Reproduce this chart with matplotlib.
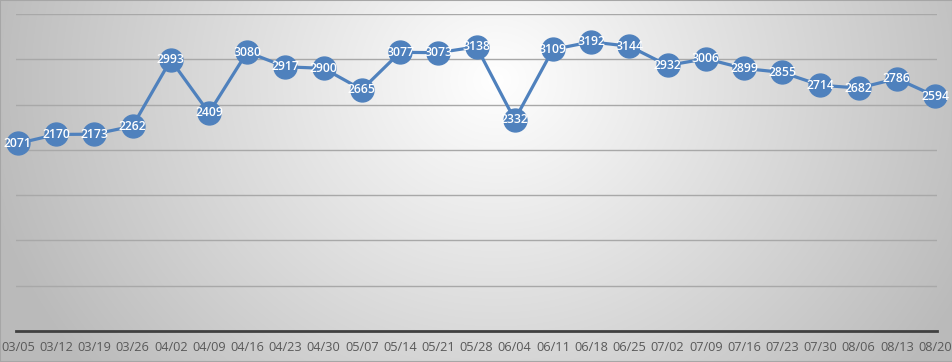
import numpy as np
import matplotlib
matplotlib.use("Agg")
import matplotlib.pyplot as plt

dates = ["03/05","03/12","03/19","03/26","04/02","04/09","04/16","04/23","04/30",
         "05/07","05/14","05/21","05/28","06/04","06/11","06/18","06/25","07/02",
         "07/09","07/16","07/23","07/30","08/06","08/13","08/20"]
values = [2071, 2170, 2173, 2262, 2993, 2409, 3080, 2917, 2900, 2665, 3077, 3073,
          3138, 2332, 3109, 3192, 3144, 2932, 3006, 2899, 2855, 2714, 2682, 2786, 2594]

W, H = 953, 362
fig = plt.figure(figsize=(W/100, H/100), dpi=100)

# radial gradient background
bg = fig.add_axes([0, 0, 1, 1], zorder=-10)
yy, xx = np.mgrid[0:H, 0:W]
cx, cy = W*0.52, H*0.22
d = np.sqrt(((xx-cx)/(W*0.55))**2 + ((yy-cy)/(H*1.3))**2)
d = np.clip(d, 0, 1)
v = 1.0 - 0.27*d
img = np.dstack([v, v, v])
bg.imshow(img, aspect='auto', extent=[0, 1, 0, 1], origin='upper')
bg.set_xlim(0, 1); bg.set_ylim(0, 1)
bg.axis('off')
bg.plot([0, 1, 1, 0, 0], [0, 0, 1, 1, 0], color='#a6a6a6', lw=1.5, transform=bg.transAxes, clip_on=False)

ax = fig.add_axes([16/W, 1-331/H, (937-16)/W, (331-14)/H])
ax.patch.set_alpha(0)
x = np.arange(len(values))
ax.set_xlim(-0.05, len(values)-1+0.05)
ax.set_ylim(0, 3500)
ax.set_yticks(np.arange(500, 3501, 500))
ax.yaxis.grid(True, color='#a8a8a8', lw=1.0)
ax.tick_params(axis='y', length=0, labelleft=False)
ax.tick_params(axis='x', length=0, pad=7, labelsize=9.2, labelcolor='#595959')
ax.set_xticks(x)
ax.set_xticklabels(dates, fontfamily='Open Sans')
for s in ['top', 'right', 'left']:
    ax.spines[s].set_visible(False)
ax.spines['bottom'].set_color('#404040')
ax.spines['bottom'].set_linewidth(2)
ax.set_axisbelow(True)

ax.plot(x, values, color='#4f81bd', lw=2.3, marker='o', markersize=16.5,
        markerfacecolor='#4f81bd', markeredgecolor='#4f81bd', clip_on=False, zorder=3)
for xi, vi in zip(x, values):
    ax.text(xi, vi, str(vi), ha='center', va='center', color='white',
            fontsize=8.8, fontweight='semibold', fontfamily='Open Sans', zorder=4, clip_on=False)

fig.savefig("out.png", dpi=100)
